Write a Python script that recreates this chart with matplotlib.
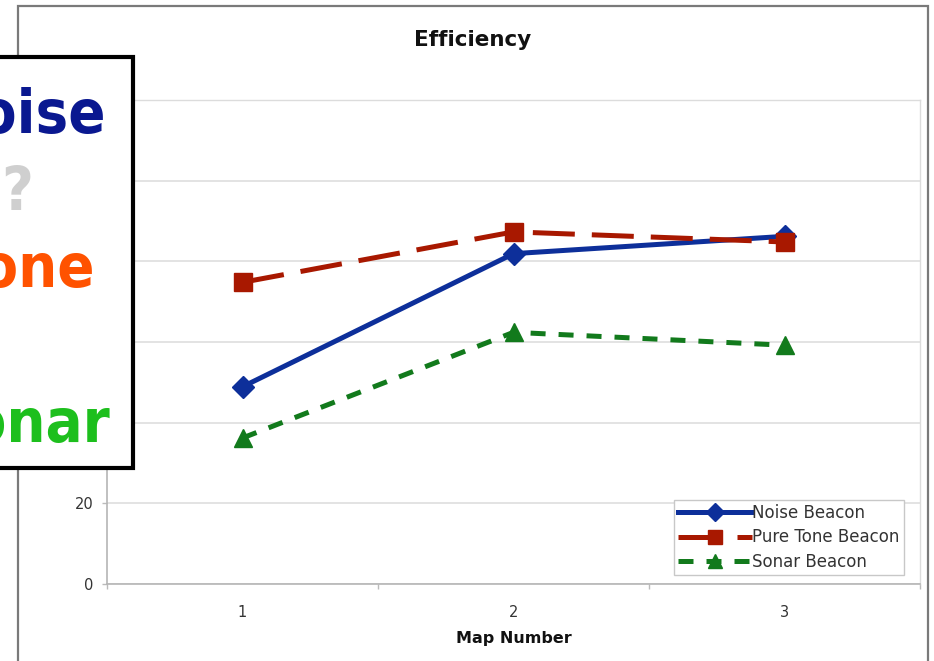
import matplotlib
matplotlib.use("Agg")
import matplotlib.pyplot as plt
from matplotlib.patches import Rectangle

# Efficiency per map for each beacon type
maps = [1, 2, 3]
noise_beacon = [48.9, 81.9, 86.2]
pure_tone_beacon = [74.8, 87.3, 84.8]
sonar_beacon = [36.2, 62.4, 59.2]
y_ticks = [0, 20, 40, 60, 80, 100, 120]
# labels above 20 sit under the callout box
y_tick_labels = ["0", "20", "", "", "", "", ""]

# Callout words
callout_words = ["Noise", "?", "Tone", "Sonar"]
callout_colors = ["#0a1890", "#cfcfcf", "#ff5200", "#1dbf1d"]

W, H = 934, 661
fig = plt.figure(figsize=(W / 100, H / 100), dpi=100)
fig.patch.set_facecolor("white")

def fx(px):
    return px / W

def fy(py):
    return (H - py) / H

ax = fig.add_axes([fx(107), fy(584), fx(920) - fx(107), fy(100) - fy(584)])
ax.set_facecolor("white")

ax.plot(maps, noise_beacon, color="#0d2f9a", lw=3.6, marker="D", ms=11,
        label="Noise Beacon", zorder=3)
ax.plot(maps, pure_tone_beacon, color="#a81800", lw=3.6, marker="s", ms=12.5,
        dashes=(8.4, 3.4), label="Pure Tone Beacon", zorder=3)
ax.plot(maps, sonar_beacon, color="#127a1c", lw=3.6, marker="^", ms=13,
        dashes=(3.0, 2.6), label="Sonar Beacon", zorder=3)

ax.set_xlim(0.5, 3.5)
ax.set_ylim(0, 120)
ax.set_yticks(y_ticks)
ax.set_yticklabels(y_tick_labels)
ax.set_xticks(maps)
ax.set_xticks([0.5, 1.5, 2.5, 3.5], minor=True)
ax.grid(axis="y", color="#dedede", lw=1.2, zorder=0)
ax.set_axisbelow(True)

ax.tick_params(axis="x", which="major", length=0, pad=15, labelsize=10.5,
               labelcolor="#333333")
ax.tick_params(axis="x", which="minor", length=3.6, width=1, color="#bbbbbb",
               direction="out")
ax.tick_params(axis="y", length=3.6, width=1, color="#bbbbbb", pad=6,
               labelsize=10.5, labelcolor="#333333")

for side in ["left", "bottom"]:
    ax.spines[side].set_color("#b5b5b5")
    ax.spines[side].set_linewidth(1.2)
for side in ["top", "right"]:
    ax.spines[side].set_color("#dcdcdc")
    ax.spines[side].set_linewidth(1.0)

ax.set_xlabel("Map Number", fontsize=11.5, fontweight="bold", labelpad=8,
              color="#111111")

fig.text(fx(473), fy(40), "Efficiency", ha="center", va="center",
         fontsize=15.5, fontweight="bold", color="#111111")

leg = ax.legend(loc="lower right", bbox_to_anchor=(fx(904), fy(575)),
                bbox_transform=fig.transFigure, borderaxespad=0,
                fontsize=12, frameon=True, fancybox=False, framealpha=1,
                edgecolor="#c8c8c8", handlelength=4.4, handletextpad=0.05,
                labelspacing=0.38, borderpad=0.25, markerscale=0.8)
leg.get_frame().set_linewidth(1.0)
for t in leg.get_texts():
    t.set_color("#333333")

# Outer chart frame
fig.add_artist(Rectangle((fx(18), -0.05), fx(928) - fx(18), fy(6) + 0.05,
                         transform=fig.transFigure, fill=False,
                         edgecolor="#7a7a7a", lw=1.6, zorder=5))

# Callout box overlapping the left edge
fig.add_artist(Rectangle((-0.02, fy(468)), fx(133) + 0.02, fy(57) - fy(468),
                         transform=fig.transFigure, facecolor="white",
                         edgecolor="black", lw=3, zorder=10))

right_ends = [105, 33, 95, 110]
baselines = [133, 210, 287, 442]
for word, col, xr, yb in zip(callout_words, callout_colors, right_ends, baselines):
    fig.text(fx(xr), fy(yb), word, ha="right", va="baseline",
             fontsize=44, fontweight="bold", fontstretch="condensed",
             family="DejaVu Sans", color=col, zorder=11)

fig.savefig("out.png", dpi=100)
